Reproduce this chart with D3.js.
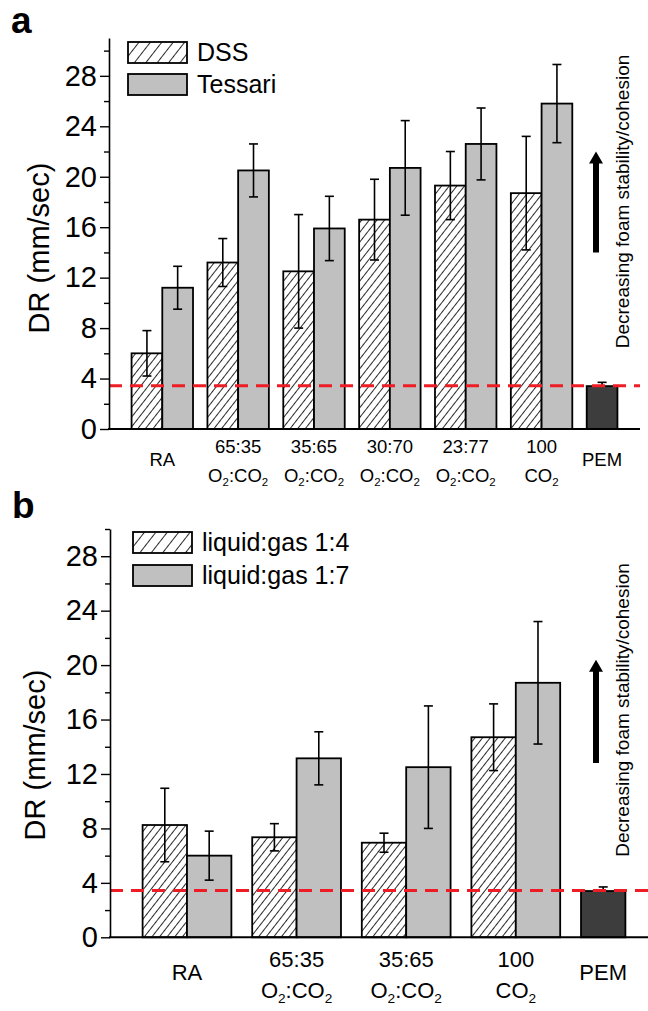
<!DOCTYPE html>
<html><head><meta charset="utf-8">
<script src="https://cdn.jsdelivr.net/npm/d3@7"></script>
<style>
body{margin:0;background:#fff}
svg{display:block}
text{font-family:Arial,"Liberation Sans",sans-serif;fill:#000}
</style>
</head><body>
<svg id="c" width="648" height="1011"></svg>
<script>
// ---------------- DATA ----------------
// Panel a
const catsA = ["RA", "65:35", "35:65", "30:70", "23:77", "100", "PEM"];
const labelsA = [["RA"], ["65:35", "O_2:CO_2"], ["35:65", "O_2:CO_2"], ["30:70", "O_2:CO_2"], ["23:77", "O_2:CO_2"], ["100", "CO_2"], ["PEM"]];
const seriesNamesA = ["DSS", "Tessari"];
const dssMean = [6.0, 13.2, 12.5, 16.6, 19.3, 18.7];
const dssErr = [1.8, 1.9, 4.5, 3.2, 2.7, 4.5];
const tessMean = [11.2, 20.5, 15.9, 20.7, 22.6, 25.8];
const tessErr = [1.7, 2.1, 2.55, 3.75, 2.85, 3.1];
// Panel b
const catsB = ["RA", "65:35", "35:65", "100", "PEM"];
const labelsB = [["RA"], ["65:35", "O_2:CO_2"], ["35:65", "O_2:CO_2"], ["100", "CO_2"], ["PEM"]];
const seriesNamesB = ["liquid:gas 1:4", "liquid:gas 1:7"];
const lg14Mean = [8.25, 7.35, 6.95, 14.7];
const lg14Err = [2.7, 1.0, 0.7, 2.45];
const lg17Mean = [6.0, 13.15, 12.5, 18.7];
const lg17Err = [1.8, 1.95, 4.5, 4.5];
// PEM reference (both panels)
const pemMean = 3.4;
const pemErr = 0.3;
const pemLine = 3.43;
// Axis ticks
const majorTicks = [0, 4, 8, 12, 16, 20, 24, 28];
const minorTicks = [2, 6, 10, 14, 18, 22, 26, 30];
const annotation = "Decreasing foam stability/cohesion";
const yTitle = "DR (mm/sec)";

// ---------------- DRAWING ----------------
const svg = d3.select("#c");
const defs = svg.append("defs");
function hatchPattern(id, s) {
  defs.append("pattern").attr("id", id).attr("patternUnits", "userSpaceOnUse")
    .attr("width", s).attr("height", s).attr("patternTransform", "rotate(38)")
    .call(p => {
      p.append("rect").attr("width", s).attr("height", s).attr("fill", "#fff");
      p.append("line").attr("x1", 0.5).attr("y1", 0).attr("x2", 0.5).attr("y2", s)
        .attr("stroke", "#2a2a2a").attr("stroke-width", 1);
    });
}
hatchPattern("hatch", 6);
hatchPattern("hatchL", 9);

function richText(sel, str) {
  const parts = str.split(/_(\d)/);
  let shifted = false;
  parts.forEach((p, i) => {
    if (p === "") return;
    if (i % 2 === 1) {
      sel.append("tspan").attr("font-size", "0.62em").attr("dy", "0.35em").text(p);
      shifted = true;
    } else {
      const t = sel.append("tspan").text(p);
      if (shifted) { t.attr("dy", "-0.217em"); shifted = false; }
    }
  });
}

function panel(o) {
  const g = svg.append("g");
  const y = d3.scaleLinear().domain([0, o.yMax]).range([o.y0, o.yTop]);
  const x = d3.scaleBand().domain(o.cats).range([o.x0, o.bandEnd]).padding(0);
  const bw = x.bandwidth() * 0.405;
  const c = k => x(k) + x.bandwidth() / 2;
  const nG = o.m1.length;
  const groups = o.cats.slice(0, nG);

  const bars = [];
  groups.forEach((k, i) => {
    bars.push({x: c(k) - bw / 2, v: o.m1[i], e: o.e1[i], fill: "url(#hatch)"});
    bars.push({x: c(k) + bw / 2, v: o.m2[i], e: o.e2[i], fill: "#c0c0c0"});
  });
  bars.push({x: c("PEM") - bw / 2, v: pemMean, e: pemErr, fill: "#3d3d3d", pem: true});

  g.selectAll("rect.bar").data(bars).join("rect").attr("class", "bar")
    .attr("x", d => d.x).attr("width", bw)
    .attr("y", d => y(d.v)).attr("height", d => y(0) - y(d.v))
    .attr("fill", d => d.fill).attr("stroke", "#000").attr("stroke-width", 1.8);

  const cap = 4.5;
  const eb = g.selectAll("g.err").data(bars).join("g").attr("class", "err")
    .attr("stroke", "#000").attr("stroke-width", 1.6);
  eb.append("line").attr("x1", d => d.x + bw / 2).attr("x2", d => d.x + bw / 2)
    .attr("y1", d => y(d.v + d.e)).attr("y2", d => d.pem ? y(d.v) : y(d.v - d.e));
  eb.append("line").attr("x1", d => d.x + bw / 2 - cap).attr("x2", d => d.x + bw / 2 + cap)
    .attr("y1", d => y(d.v + d.e)).attr("y2", d => y(d.v + d.e));
  eb.filter(d => !d.pem).append("line").attr("x1", d => d.x + bw / 2 - cap).attr("x2", d => d.x + bw / 2 + cap)
    .attr("y1", d => y(d.v - d.e)).attr("y2", d => y(d.v - d.e));

  // red dashed reference line
  g.append("line").attr("x1", o.x0).attr("x2", o.axisEnd)
    .attr("y1", y(pemLine)).attr("y2", y(pemLine))
    .attr("stroke", "#ee1c24").attr("stroke-width", 3).attr("stroke-dasharray", "13,8");

  // axes
  const ya = g.append("g").attr("transform", `translate(${o.x0},0)`)
    .call(d3.axisLeft(y).tickValues(majorTicks).tickSize(9).tickSizeOuter(0).tickPadding(3));
  ya.selectAll("text").attr("font-size", 29).attr("font-family", "Arial,'Liberation Sans',sans-serif").attr("fill", "#000");
  ya.selectAll("line").attr("stroke", "#000").attr("stroke-width", 1.4);
  ya.select(".domain").attr("stroke", "#000").attr("stroke-width", 1.6);
  const ym = g.append("g").attr("transform", `translate(${o.x0},0)`)
    .call(d3.axisLeft(y).tickValues(minorTicks).tickSize(5).tickSizeOuter(0).tickFormat(""));
  ym.select(".domain").remove();
  ym.selectAll("line").attr("stroke", "#000").attr("stroke-width", 1.4);

  g.append("line").attr("x1", o.x0 - 1).attr("x2", o.axisEnd)
    .attr("y1", y(0)).attr("y2", y(0)).attr("stroke", "#000").attr("stroke-width", 2);

  // x labels
  o.cats.forEach((k, i) => {
    const cx = k === "PEM" ? c(k) : c(k) + bw / 2;
    const lines = o.labels[i];
    if (lines.length === 1) {
      const t = g.append("text").attr("x", cx).attr("y", o.lblMid).attr("text-anchor", "middle").attr("font-size", o.lblSize);
      richText(t, lines[0]);
    } else {
      lines.forEach((ln, j) => {
        const t = g.append("text").attr("x", cx).attr("y", j === 0 ? o.lbl1 : o.lbl2)
          .attr("text-anchor", "middle").attr("font-size", o.lblSize);
        richText(t, ln);
      });
    }
  });

  // y title
  g.append("text").attr("transform", `translate(${o.titleX},${o.titleY}) rotate(-90)`)
    .attr("text-anchor", "middle").attr("font-size", 29).text(yTitle);

  // panel letter
  g.append("text").attr("x", o.letterX).attr("y", o.letterY).attr("font-size", 37)
    .attr("font-weight", "bold").text(o.letter);

  // legend
  o.names.forEach((n, i) => {
    const ly = o.legY + i * o.legStep;
    g.append("rect").attr("x", o.legX).attr("y", ly).attr("width", 59).attr("height", 21)
      .attr("fill", i === 0 ? "url(#hatchL)" : "#c0c0c0").attr("stroke", "#000").attr("stroke-width", 1.8);
    g.append("text").attr("x", o.legX + 69).attr("y", ly + 19).attr("font-size", 25).text(n);
  });

  // arrow
  const ax = 596, tip = y(o.arrowTo), bot = y(o.arrowFrom);
  g.append("path").attr("d", `M${ax - 3},${bot} L${ax - 3},${tip + 12} L${ax - 7},${tip + 12} L${ax},${tip} L${ax + 7},${tip + 12} L${ax + 3},${tip + 12} L${ax + 3},${bot} Z`)
    .attr("fill", "#000");
  g.append("text").attr("transform", `translate(629,${o.annY}) rotate(-90)`)
    .attr("text-anchor", "middle").attr("font-size", 19).text(annotation);
}

panel({
  letter: "a", letterX: 11, letterY: 33,
  cats: catsA, labels: labelsA, names: seriesNamesA,
  m1: dssMean, e1: dssErr, m2: tessMean, e2: tessErr,
  yMax: 31, y0: 429, yTop: 38,
  x0: 109, bandEnd: 640, axisEnd: 640,
  lblSize: 18.5, lblMid: 466, lbl1: 453, lbl2: 482,
  titleX: 49, titleY: 248,
  legX: 128, legY: 42, legStep: 32,
  arrowFrom: 14, arrowTo: 22, annY: 201.5
});
panel({
  letter: "b", letterX: 12, letterY: 518,
  cats: catsB, labels: labelsB, names: seriesNamesB,
  m1: lg14Mean, e1: lg14Err, m2: lg17Mean, e2: lg17Err,
  yMax: 30, y0: 937.3, yTop: 529,
  x0: 110, bandEnd: 658, axisEnd: 648,
  lblSize: 22, lblMid: 980, lbl1: 967, lbl2: 998,
  titleX: 45, titleY: 755,
  legX: 133, legY: 532, legStep: 33,
  arrowFrom: 12.8, arrowTo: 20.4, annY: 710
});
</script>
</body></html>
